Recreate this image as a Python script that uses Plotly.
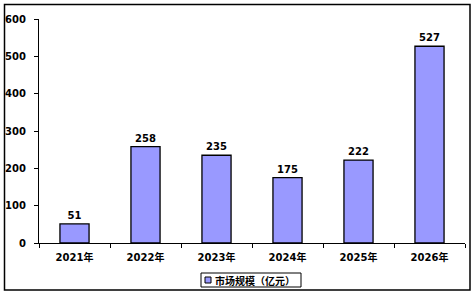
import plotly.graph_objects as go

years = ["2021年", "2022年", "2023年", "2024年", "2025年", "2026年"]
values = [51, 258, 235, 175, 222, 527]
series_name = "市场规模（亿元）"
y_ticks = [0, 100, 200, 300, 400, 500, 600]

W, H = 475, 294
L, R, T, B = 39, 10, 19, 51
pw, ph = W - L - R, H - T - B

def px_x(x):
    return (x - L) / pw

def px_y(y):
    return (H - B - y) / ph

font_fam = "DejaVu Sans, Verdana, Noto Sans CJK SC"
bar_color = "#9999FF"

fig = go.Figure()
fig.add_trace(go.Bar(
    x=years, y=values, name=series_name,
    marker=dict(color=bar_color, line=dict(color="black", width=1.3)),
    width=0.41,
    text=[str(v) for v in values], textposition="outside",
    textfont=dict(family=font_fam, size=10, color="black", weight="bold"),
    cliponaxis=False,
    showlegend=False,
))

fig.update_layout(
    width=W, height=H,
    margin=dict(l=L, r=R, t=T, b=B, autoexpand=False),
    paper_bgcolor="white", plot_bgcolor="white",
    font=dict(family=font_fam, size=10, color="black"),
    showlegend=False,
    xaxis=dict(
        type="category", showline=True, linecolor="black", linewidth=1.3,
        ticks="outside", tickson="boundaries", ticklen=4, tickcolor="black",
        ticklabelstandoff=5,
        tickfont=dict(family=font_fam, size=10, color="black", weight="bold"),
        showgrid=False, zeroline=False,
    ),
    yaxis=dict(
        range=[0, 600], tickvals=y_ticks, showline=True, linecolor="black",
        linewidth=1.3, ticks="outside", ticklen=4, tickcolor="black",
        ticklabelstandoff=6,
        tickfont=dict(family=font_fam, size=10, color="black", weight="bold"),
        showgrid=False, zeroline=False,
    ),
    shapes=[
        dict(type="rect", xref="paper", yref="paper",
             x0=px_x(4.5), x1=px_x(470), y0=px_y(290), y1=px_y(4.5),
             line=dict(color="black", width=1.5), fillcolor="rgba(0,0,0,0)", layer="below"),
        dict(type="rect", xref="paper", yref="paper",
             x0=px_x(201), x1=px_x(301), y0=px_y(287), y1=px_y(273),
             line=dict(color="black", width=1), fillcolor="white"),
        dict(type="rect", xref="paper", yref="paper",
             x0=px_x(205), x1=px_x(211), y0=px_y(283), y1=px_y(277),
             line=dict(color="black", width=1), fillcolor=bar_color),
    ],
    annotations=[dict(
        text=series_name, xref="paper", yref="paper", x=px_x(213), y=px_y(280),
        xanchor="left", yanchor="middle", showarrow=False,
        font=dict(family="Noto Sans CJK SC", size=10, color="black", weight="bold"),
    )],
)

fig.write_html("out.html")
